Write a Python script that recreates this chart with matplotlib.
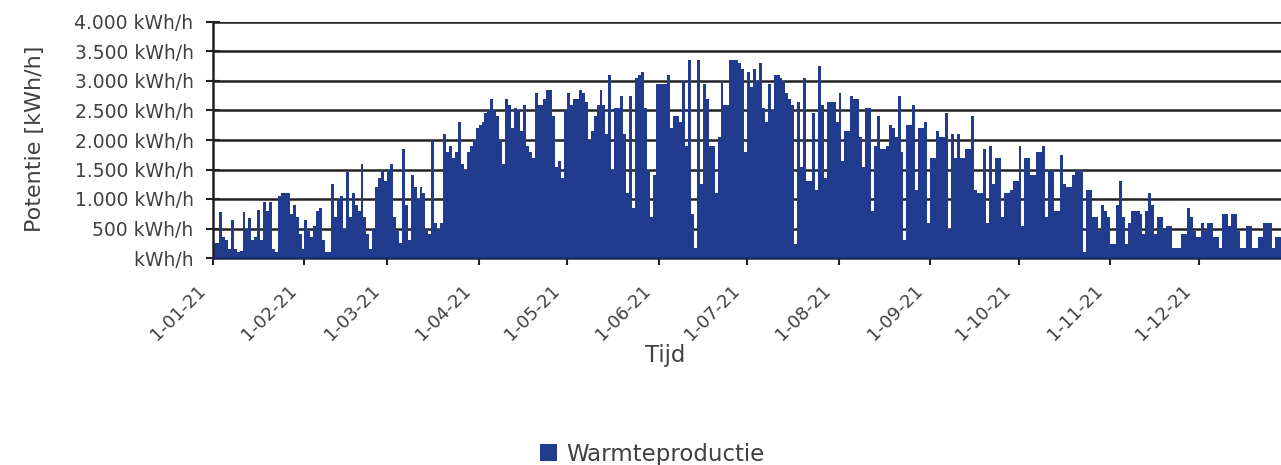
import matplotlib
matplotlib.use("Agg")
import matplotlib.pyplot as plt
import matplotlib.transforms as mtransforms
import numpy as np
import pandas as pd

# daily peak heat production (kWh/h), one list per month
jan = [250, 250, 780, 350, 300, 150, 650, 150, 100, 120, 780, 500, 680, 300, 350, 820,
       300, 950, 800, 950, 150, 100, 1050, 1100, 1100, 1100, 750, 900, 700, 400, 150]
feb = [650, 450, 350, 550, 800, 850, 300, 100, 100, 1250, 700, 1000, 1050, 500, 1450,
       700, 1100, 900, 800, 1600, 700, 400, 150, 500, 1200, 1350, 1500, 1300]
mar = [1500, 1600, 700, 450, 250, 1850, 900, 300, 1400, 1200, 1000, 1200, 1100, 500, 400,
       2000, 600, 500, 600, 2100, 1800, 1900, 1700, 1800, 2300, 1600, 1500, 1800, 1900, 2000, 2200]
apr = [2250, 2300, 2450, 2500, 2700, 2500, 2400, 2000, 1600, 2700, 2600, 2200, 2550, 2500, 2150,
       2600, 1900, 1800, 1700, 2800, 2600, 2600, 2700, 2850, 2850, 2400, 1550, 1650, 1350, 2500]
may = [2800, 2600, 2700, 2700, 2850, 2800, 2650, 2000, 2150, 2400, 2600, 2850, 2600, 2100, 3100,
       1500, 2550, 2550, 2750, 2100, 1100, 2750, 850, 3050, 3100, 3150, 2550, 1500, 700, 1400, 2950]
jun = [2950, 2950, 2950, 3100, 2200, 2400, 2400, 2300, 3000, 1900, 3350, 750, 170, 3350, 1250,
       2950, 2700, 1900, 1900, 1100, 2050, 3000, 2600, 2600, 3350, 3350, 3350, 3300, 3200, 1800]
jul = [3150, 2900, 3200, 3000, 3300, 2550, 2300, 2950, 2500, 3100, 3100, 3050, 3000, 2800, 2700,
       2600, 230, 2650, 1550, 3050, 1300, 1300, 2450, 1150, 3250, 2600, 1350, 2650, 2650, 2650, 2300]
aug = [2800, 1650, 2150, 2150, 2750, 2700, 2700, 2050, 1550, 2550, 2550, 800, 1900, 2400, 1850,
       1850, 1900, 2250, 2200, 2050, 2750, 1800, 300, 2250, 2250, 2600, 1150, 2200, 2200, 2300, 600]
sep = [1700, 1700, 2150, 2050, 2050, 2450, 500, 2100, 1700, 2100, 1700, 1700, 1850, 1850, 2400,
       1150, 1100, 1100, 1850, 600, 1900, 1250, 1700, 1700, 700, 1100, 1100, 1150, 1300, 1300]
okt = [1900, 550, 1700, 1700, 1400, 1400, 1800, 1800, 1900, 700, 1500, 1500, 800, 800, 1750,
       1250, 1200, 1200, 1400, 1500, 1500, 1450, 100, 1150, 1150, 700, 700, 450, 900, 800, 700]
nov = [230, 230, 900, 1300, 700, 230, 600, 800, 800, 800, 750, 400, 800, 1100, 900,
       400, 700, 700, 450, 550, 550, 170, 170, 170, 400, 400, 850, 700, 450, 350]
dec = [350, 600, 450, 600, 600, 350, 350, 170, 750, 750, 550, 750, 750, 450, 170,
       170, 550, 550, 170, 170, 350, 350, 600, 600, 600, 170, 350, 350, 300, 250, 300]

production = jan + feb + mar + apr + may + jun + jul + aug + sep + okt + nov + dec
days = pd.date_range("2021-01-01", periods=len(production), freq="D")

month_ticks = pd.date_range("2021-01-01", "2021-12-01", freq="MS")
month_labels = ["1-01-21", "1-02-21", "1-03-21", "1-04-21", "1-05-21", "1-06-21",
                "1-07-21", "1-08-21", "1-09-21", "1-10-21", "1-11-21", "1-12-21"]
y_ticks = [0, 500, 1000, 1500, 2000, 2500, 3000, 3500, 4000]
y_labels = [" kWh/h", "500 kWh/h", "1.000 kWh/h", "1.500 kWh/h", "2.000 kWh/h",
            "2.500 kWh/h", "3.000 kWh/h", "3.500 kWh/h", "4.000 kWh/h"]

plt.rcParams['font.family'] = ['DejaVu Sans']
text_col = '#404040'
bar_col = '#213B8F'

W, H = 1281, 465
fig = plt.figure(figsize=(W / 100, H / 100), dpi=100)
# the axes run a little past the right border, as in the original cut-off image
ax = fig.add_axes([213 / W, (H - 258) / H, (1290 - 213) / W, 236 / H])

ax.bar(days, production, width=1.0, align='edge', color=bar_col, linewidth=0,
       label='Warmteproductie')

ax.set_xlim(pd.Timestamp("2021-01-01"), pd.Timestamp("2022-01-01"))
ax.set_ylim(0, 4000)
ax.set_yticks(y_ticks)
ax.set_yticklabels(y_labels)
ax.set_xticks(month_ticks)
ax.set_xticklabels(month_labels, rotation=45, ha='right', rotation_mode='anchor')

ax.set_axisbelow(True)
ax.grid(axis='y', color='#222222', linewidth=1.8)
for s in ['top', 'right']:
    ax.spines[s].set_visible(False)
ax.spines['left'].set_color('#222222')
ax.spines['left'].set_linewidth(1.8)
ax.spines['bottom'].set_color('#1a2a5e')
ax.spines['bottom'].set_linewidth(1.8)

ax.tick_params(axis='y', direction='inout', length=10, width=1.5, colors='#222222',
               labelcolor=text_col, labelsize=13.5, pad=9)
ax.tick_params(axis='x', direction='out', length=5, width=1.5, colors='#222222',
               labelcolor=text_col, labelsize=13, pad=12)
shift = mtransforms.ScaledTranslation(-12 / 72, 0, fig.dpi_scale_trans)
for lab in ax.get_xticklabels():
    lab.set_transform(lab.get_transform() + shift)

fig.text(35 / W, 1 - 139 / H, 'Potentie [kWh/h]', fontsize=16, color=text_col,
         rotation=90, ha='center', va='center')
fig.text(665 / W, 1 - 355 / H, 'Tijd', fontsize=16.5, color=text_col, ha='center', va='center')

fig.legend(loc='center', bbox_to_anchor=(652 / W, 1 - 454 / H), frameon=False,
           fontsize=16.5, labelcolor=text_col, handlelength=0.75, handleheight=0.75,
           handletextpad=0.4, borderpad=0)

fig.savefig('out.png', dpi=100)
